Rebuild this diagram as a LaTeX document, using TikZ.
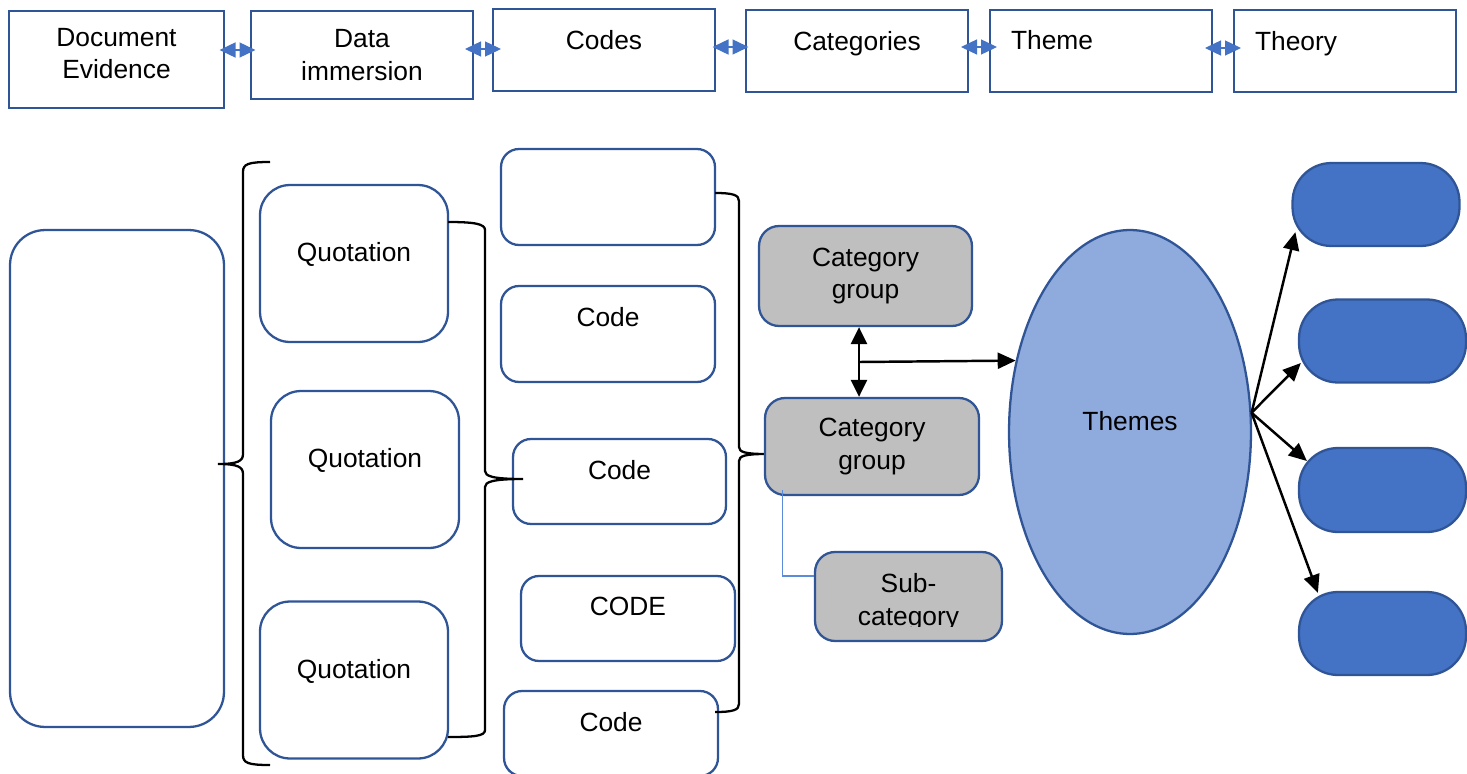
\documentclass[tikz,border=0pt]{standalone}
\usepackage{fontspec}
\setmainfont{Liberation Sans}
\usetikzlibrary{arrows.meta,calc,shapes.geometric}

\definecolor{boxline}{RGB}{47,85,151}
\definecolor{tipblue}{RGB}{68,114,196}
\definecolor{catgray}{RGB}{191,191,191}
\definecolor{themefill}{RGB}{143,170,220}
\definecolor{capfill}{RGB}{68,114,196}
\definecolor{wireblue}{RGB}{91,140,220}

\tikzset{
  every node/.style={font=\fontsize{15}{18.5}\selectfont},
  topbox/.style={draw=boxline, line width=1.3pt, align=center, minimum width=4.44cm, minimum height=1.64cm},
  quotebox/.style={draw=boxline, line width=1.3pt, rounded corners=0.6cm, minimum width=3.76cm, minimum height=3.14cm},
  codebox/.style={draw=boxline, line width=1.3pt, rounded corners=0.36cm, minimum width=4.28cm, minimum height=1.7cm},
  catbox/.style={draw=boxline, fill=catgray, line width=1.3pt, rounded corners=0.4cm, align=center, minimum width=4.26cm, minimum height=1.96cm},
  capsule/.style={draw=boxline, fill=capfill, line width=1.3pt, rounded corners=0.78cm, minimum width=3.34cm, minimum height=1.66cm},
  lift/.style={text depth=#1},
  dblarrow/.style={tipblue, line width=0.8pt, {Triangle[length=0.32cm,width=0.3cm]}-{Triangle[length=0.32cm,width=0.3cm]}},
  blkarrow/.style={black, line width=1.4pt, -{Triangle[length=0.36cm,width=0.32cm]}},
  dblblk/.style={black, line width=1.4pt, {Triangle[length=0.34cm,width=0.32cm]}-{Triangle[length=0.34cm,width=0.32cm]}},
  brace/.style={black, line width=1.3pt}
}

\begin{document}
\begin{tikzpicture}[x=0.02cm, y=-0.02cm]
\useasboundingbox (0,0) rectangle (1467,774);

% top row
\node[topbox, minimum width=4.3cm, minimum height=1.94cm, lift=0.24cm] (doc) at (116.5,59.5) {Document\\Evidence};
\node[topbox, minimum height=1.76cm] (data) at (362,55) {Data\\immersion};
\node[topbox, lift=0.4cm] (codes) at (604,50) {Codes};
\node[topbox, lift=0.4cm] (cats) at (857,51) {Categories};
\node[topbox, lift=0.44cm, align=left, text width=3.6cm, inner xsep=0.42cm] (theme) at (1101,51) {Theme};
\node[topbox, lift=0.4cm, align=left, text width=3.6cm, inner xsep=0.42cm] (theory) at (1345,51) {Theory};
\foreach \a/\b/\y in {doc/data/50, data/codes/49, codes/cats/47, cats/theme/47, theme/theory/48}
  \draw[dblarrow] ($(\a.east |- 0,\y)!0.5!(\b.west |- 0,\y)$) ++(-18,0) -- ++(36,0);

% evidence and quotations
\node[draw=boxline, line width=1.3pt, rounded corners=0.7cm, minimum width=4.28cm, minimum height=9.94cm] (evidence) at (117,478.5) {};
\node[quotebox, lift=0.46cm] (q1) at (354,263.5) {Quotation};
\node[quotebox, lift=0.46cm] (q2) at (365,469.5) {Quotation};
\node[quotebox, lift=0.44cm] (q3) at (354,680) {Quotation};

% codes
\node[codebox, minimum height=1.92cm] (c1) at (608,197) {};
\node[codebox, minimum height=1.92cm, lift=0.68cm] (c2) at (608,334) {Code};
\node[codebox, minimum width=4.26cm, lift=0.46cm] (c3) at (619.5,481.5) {Code};
\node[codebox, lift=0.5cm] (c4) at (628,618.5) {CODE};
\node[codebox, lift=0.46cm] (c5) at (611,733.5) {Code};

% braces
\draw[brace] (270,162) .. controls (248,162) and (243,164) .. (243,172) -- (243,454)
  .. controls (243,461) and (238,464) .. (218,464) .. controls (238,464) and (243,467) .. (243,474)
  -- (243,755) .. controls (243,763) and (248,765) .. (270,765);
\draw[brace] (448,222) .. controls (475,222) and (485,224) .. (485,230) -- (485,471)
  .. controls (485,476) and (492,479) .. (523,479) .. controls (492,479) and (485,482) .. (485,487)
  -- (485,730) .. controls (485,736) and (475,737) .. (448,737);
\draw[brace] (715,193) .. controls (733,193) and (739,195) .. (739,201) -- (739,447)
  .. controls (739,452) and (745,454) .. (766,454) .. controls (745,454) and (739,456) .. (739,461)
  -- (739,704) .. controls (739,710) and (733,712) .. (715,712);

% categories
\node[catbox, minimum height=2.0cm] (cat1) at (865.5,276) {Category\\group};
\node[catbox, minimum width=4.28cm, minimum height=1.94cm] (cat2) at (872,446.5) {Category\\group};
\node[catbox, minimum width=3.74cm, minimum height=1.78cm] (sub) at (908.5,596.5) {};
\begin{scope}
  \clip (sub.north west) rectangle ($(sub.south east)+(0,-16)$);
  \node[align=center] (subtext) at (908.5,602) {Sub-\\category};
\end{scope}
\draw[wireblue, line width=0.6pt] ([xshift=0.38cm, yshift=0.12cm]cat2.south west) |- ([yshift=0.41cm]sub.west);

% themes
\node[ellipse, draw=boxline, fill=themefill, line width=1.3pt, minimum width=4.84cm, minimum height=8.08cm, lift=0.44cm] (themes) at (1130,432) {Themes};
\coordinate (junc) at (859,362);
\draw[dblblk] (junc |- cat1.south) -- (junc |- cat2.north);
\draw[blkarrow] (junc) -- (themes.148);

\node[capsule] (r1) at (1376,204.5) {};
\node[capsule] (r2) at (1382.5,341) {};
\node[capsule, minimum height=1.68cm] (r3) at (1382.5,490) {};
\node[capsule] (r4) at (1382.5,633.5) {};
\coordinate (hub) at (themes.9);
\draw[blkarrow] (hub) -- ($(r1.south west)+(4,-15)$);
\draw[blkarrow] (hub) -- ($(r2.west)+(3,22)$);
\draw[blkarrow] (hub) -- ($(r3.west)+(9,-29)$);
\draw[blkarrow] (hub) -- ($(r4.north west)+(20,2)$);
\end{tikzpicture}
\end{document}
